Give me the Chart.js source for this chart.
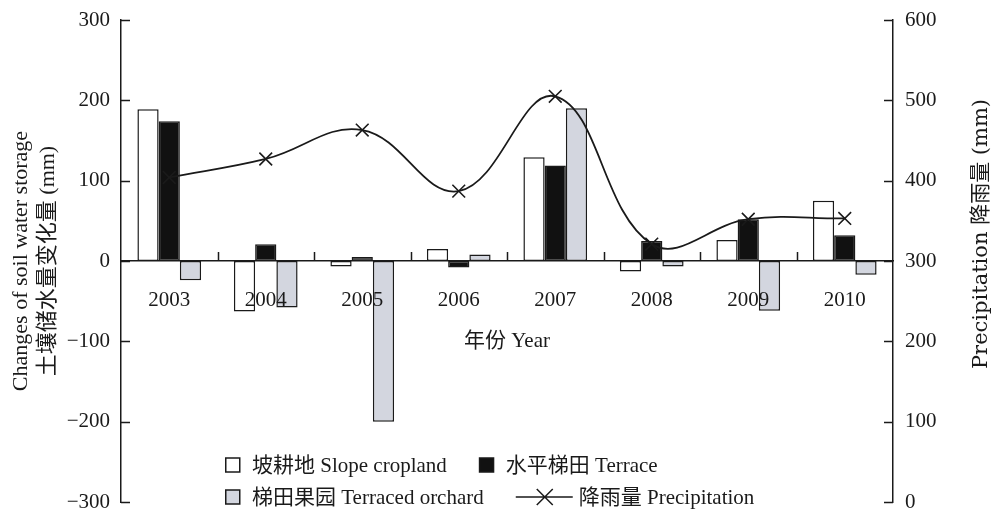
<!DOCTYPE html>
<html>
<head>
<meta charset="utf-8">
<script src="https://cdn.jsdelivr.net/npm/chart.js@4.4.0/dist/chart.umd.min.js"></script>
<style>
  html, body { margin: 0; padding: 0; background: #ffffff; }
  #wrap { width: 991px; height: 513px; position: relative; }
</style>
</head>
<body>
<div id="wrap"><canvas id="c" width="991" height="513"></canvas></div>
<script>
// Years on the category axis
const years = ['2003', '2004', '2005', '2006', '2007', '2008', '2009', '2010'];

// Changes of soil water storage (mm) by land use
const slopeCropland   = [189, -63, -7, 15, 129, -13, 26, 75];
const terrace         = [174, 21, 5, -8, 119, 25, 52, 32];
const terracedOrchard = [-24, -58, -200, 8, 190, -7, -62, -17];

// Annual precipitation (mm)
const precipitation = [404, 427, 463, 387, 505, 321, 352, 353];

// Tick values for the two value axes
const storageTicks = [-300, -200, -100, 0, 100, 200, 300];
const rainTicks    = [0, 100, 200, 300, 400, 500, 600];

// Text
const seriesNames = {
  slope: '坡耕地 Slope cropland',
  terrace: '水平梯田 Terrace',
  orchard: '梯田果园 Terraced orchard',
  rain: '降雨量 Precipitation'
};
const leftTitle  = ['Changes of soil water storage', '土壤储水量变化量 (mm)'];
const rightTitle = 'Precipitation 降雨量 (mm)';
const xTitle     = '年份 Year';

const INK = '#1a1a1a';
const SERIF = "'Liberation Serif', 'Noto Sans CJK SC', serif";
const WIDE_SERIF = "'DejaVu Serif', 'Noto Sans CJK SC', serif";
const ORCHARD_FILL = '#d3d6df';

const fmt = v => (v < 0 ? '\u2212' + Math.abs(v) : String(v));

// Keep the plot area exactly where the layout padding puts it
const noEdgePadding = s => { s.paddingTop = 0; s.paddingBottom = 0; };

// Inward ticks, category ticks on the zero line, x title, right title and legend
const decor = {
  id: 'decor',
  afterDraw(chart) {
    const { ctx, chartArea: a, scales: { x, y, y1 } } = chart;
    ctx.save();
    ctx.strokeStyle = INK;
    ctx.lineWidth = 1.5;
    ctx.beginPath();
    y.ticks.forEach(t => {
      const py = Math.round(y.getPixelForValue(t.value)) + 0.5;
      ctx.moveTo(a.left, py); ctx.lineTo(a.left + 9, py);
    });
    y1.ticks.forEach(t => {
      const py = Math.round(y1.getPixelForValue(t.value)) + 0.5;
      ctx.moveTo(a.right - 9, py); ctx.lineTo(a.right, py);
    });
    const y0 = y.getPixelForValue(0);
    for (let i = 0; i < years.length - 1; i++) {
      const px = Math.round((x.getPixelForValue(i) + x.getPixelForValue(i + 1)) / 2) + 0.5;
      ctx.moveTo(px, y0); ctx.lineTo(px, y0 - 9);
    }
    ctx.stroke();

    // x axis title
    ctx.fillStyle = INK;
    ctx.font = '21px ' + SERIF;
    ctx.textAlign = 'center';
    ctx.textBaseline = 'middle';
    ctx.fillText(xTitle, (a.left + a.right) / 2, y0 + 80);

    // right axis title, reading bottom to top
    ctx.save();
    ctx.font = '21px ' + WIDE_SERIF;
    ctx.translate(a.right + 89, 234);
    ctx.rotate(-Math.PI / 2);
    ctx.fillText(rightTitle, 0, 0);
    ctx.restore();

    // legend, flowing left to right in two rows
    ctx.font = '21px ' + SERIF;
    const ds = chart.data.datasets;
    const rows = [[ds[1], ds[2]], [ds[3], ds[0]]];
    const rowY = [a.bottom - 37, a.bottom - 5];
    ctx.textAlign = 'left';
    rows.forEach((row, r) => {
      let cx = a.left + 104;
      const cy = rowY[r];
      row.forEach(d => {
        ctx.lineWidth = 1.5;
        ctx.strokeStyle = INK;
        if (d.type === 'line') {
          ctx.beginPath();
          ctx.moveTo(cx, cy); ctx.lineTo(cx + 57, cy);
          const m = cx + 29, s = 8;
          ctx.moveTo(m - s, cy - s); ctx.lineTo(m + s, cy + s);
          ctx.moveTo(m - s, cy + s); ctx.lineTo(m + s, cy - s);
          ctx.stroke();
          cx += 63;
        } else {
          ctx.fillStyle = d.backgroundColor;
          ctx.fillRect(cx + 0.75, cy - 7, 14, 14);
          ctx.strokeRect(cx + 0.75, cy - 7, 14, 14);
          cx += 27;
        }
        ctx.fillStyle = INK;
        ctx.fillText(d.label, cx, cy + 1);
        cx += ctx.measureText(d.label).width + 32;
      });
    });
    ctx.restore();
  }
};

const barCommon = {
  type: 'bar',
  yAxisID: 'y',
  borderColor: INK,
  borderWidth: 1.5,
  borderSkipped: false,
  categoryPercentage: 0.66,
  barPercentage: 1.0,
  order: 1
};

new Chart(document.getElementById('c'), {
  data: {
    labels: years,
    datasets: [
      {
        type: 'line',
        label: seriesNames.rain,
        data: precipitation,
        yAxisID: 'y1',
        borderColor: INK,
        borderWidth: 1.8,
        tension: 0.4,
        fill: false,
        pointStyle: 'crossRot',
        pointRadius: 9,
        pointBorderWidth: 1.6,
        pointBorderColor: INK,
        pointBackgroundColor: INK,
        order: 0
      },
      Object.assign({}, barCommon, { label: seriesNames.slope, data: slopeCropland, backgroundColor: '#ffffff' }),
      Object.assign({}, barCommon, { label: seriesNames.terrace, data: terrace, backgroundColor: '#111111' }),
      Object.assign({}, barCommon, { label: seriesNames.orchard, data: terracedOrchard, backgroundColor: ORCHARD_FILL })
    ]
  },
  options: {
    responsive: false,
    animation: false,
    devicePixelRatio: 1,
    layout: { padding: { top: 20, bottom: 11, left: 0, right: 0 } },
    plugins: { legend: { display: false }, tooltip: { enabled: false } },
    scales: {
      x: {
        type: 'category',
        position: { y: 0 },
        offset: true,
        grid: { display: false, drawTicks: false, drawOnChartArea: false },
        border: { display: true, color: INK, width: 1.5, z: 1 },
        ticks: { z: 2, color: INK, padding: 27, maxRotation: 0, autoSkip: false, font: { family: SERIF, size: 21 } }
      },
      y: {
        position: 'left',
        min: -300,
        max: 300,
        afterBuildTicks: s => { s.ticks = storageTicks.map(v => ({ value: v })); },
        afterFit: s => { s.width = 121; noEdgePadding(s); },
        grid: { display: false, drawTicks: false, drawOnChartArea: false },
        border: { display: true, color: INK, width: 1.5 },
        ticks: { color: INK, padding: 11, font: { family: SERIF, size: 21 }, callback: v => fmt(v) },
        title: {
          display: true,
          text: leftTitle,
          color: INK,
          font: { family: SERIF, size: 22, lineHeight: 1.22 },
          padding: { top: 7.6, bottom: 0 }
        }
      },
      y1: {
        position: 'right',
        min: 0,
        max: 600,
        afterBuildTicks: s => { s.ticks = rainTicks.map(v => ({ value: v })); },
        afterFit: s => { s.width = 98; noEdgePadding(s); },
        grid: { display: false, drawTicks: false, drawOnChartArea: false },
        border: { display: true, color: INK, width: 1.5 },
        ticks: { color: INK, padding: 12, font: { family: SERIF, size: 21 }, callback: v => fmt(v) }
      }
    }
  },
  plugins: [decor]
});
</script>
</body>
</html>
